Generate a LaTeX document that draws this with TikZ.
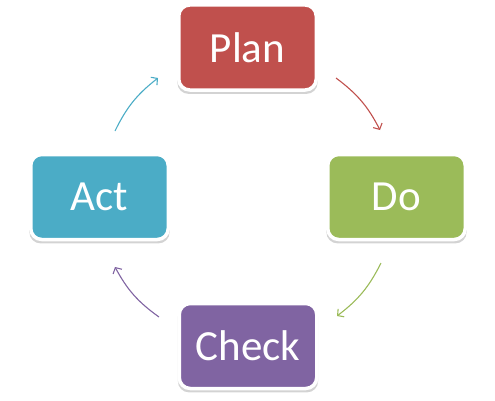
\documentclass[tikz,border=0pt]{standalone}
\usepackage{fontspec}
\setmainfont{Carlito}
\usepackage{xcolor}
\usetikzlibrary{arrows.meta,shadows}
\definecolor{planred}{HTML}{C0504D}
\definecolor{dogreen}{HTML}{9BBB59}
\definecolor{checkpurple}{HTML}{8064A2}
\definecolor{actblue}{HTML}{4BACC6}
\begin{document}
\begin{tikzpicture}[
  x=1pt, y=1pt,
  font=\fontsize{43}{50}\selectfont,
  phase/.style={draw=white, line width=3.5pt, rounded corners=11pt, minimum width=137.5pt, minimum height=85pt, inner sep=0pt, text=white,
    drop shadow={shadow xshift=0pt, shadow yshift=-3pt, opacity=0.35, shadow scale=1.02}},
  cyc/.style={-{Straight Barb[length=4.5pt, width=10pt]}, line width=1.1pt}
]
\useasboundingbox (0,0) rectangle (495,400);
\node[phase, fill=planred] (Plan) at (247.5,352.5) {Plan};
\node[phase, fill=dogreen] (Do) at (396.5,203) {Do};
\node[phase, fill=checkpurple] (Check) at (248,54) {Check};
\node[phase, fill=actblue] (Act) at (99.5,203) {Act};

% arrow ends on the circle round the cycle
\coordinate (pd1) at (336,322);
\coordinate (pd2) at (380,270);
\coordinate (dc1) at (381,137);
\coordinate (dc2) at (337,84);
\coordinate (ca1) at (159,83);
\coordinate (ca2) at (115,133);
\coordinate (ap1) at (115,269);
\coordinate (ap2) at (158,322);

\draw[cyc, draw=planred] (pd1) to[bend left=13] (pd2);
\draw[cyc, draw=dogreen] (dc1) to[bend left=13] (dc2);
\draw[cyc, draw=checkpurple] (ca1) to[bend left=13] (ca2);
\draw[cyc, draw=actblue] (ap1) to[bend left=13] (ap2);
\end{tikzpicture}
\end{document}
